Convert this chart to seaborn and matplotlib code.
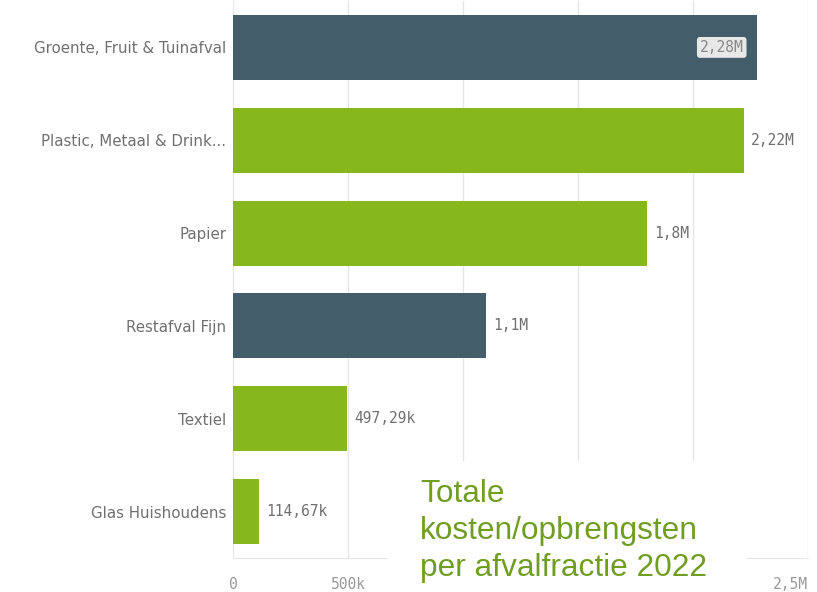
import pandas as pd
import matplotlib.pyplot as plt
import seaborn as sns
from matplotlib.patches import Rectangle

# Data
categories = ['Groente, Fruit & Tuinafval', 'Plastic, Metaal & Drink...', 'Papier',
              'Restafval Fijn', 'Textiel', 'Glas Huishoudens']
values = [2280000, 2220000, 1800000, 1100000, 497290, 114670]
value_labels = ['2,28M', '2,22M', '1,8M', '1,1M', '497,29k', '114,67k']
bar_colors = ['#435e6a', '#86b81e', '#86b81e', '#435e6a', '#86b81e', '#86b81e']
x_ticks = [0, 500000, 1000000, 1500000, 2000000, 2500000]
# labels 1M, 1,5M en 2M liggen onder het titelvak en zijn niet zichtbaar
x_ticklabels = ['0', '500k', '', '', '', '2,5M']

df = pd.DataFrame({'categorie': categories, 'waarde': values})

sns.set_style('white')
plt.rcParams['font.family'] = ['DejaVu Sans']

fig = plt.figure(figsize=(8.17, 5.92), dpi=100)
ax = fig.add_axes([233 / 817, 34 / 592, 575 / 817, 557 / 592])

sns.barplot(data=df, x='waarde', y='categorie', hue='categorie',
            palette=bar_colors, legend=False, width=0.7, ax=ax,
            saturation=1, edgecolor='none', zorder=3)

ax.set_xlim(0, 2500000)
ax.set_xticks(x_ticks)
ax.set_xticklabels(x_ticklabels, family='DejaVu Sans Mono')
ax.get_xticklabels()[-1].set_horizontalalignment('right')
ax.set_xlabel('')
ax.set_ylabel('')
ax.grid(axis='x', color='#e6e6e6', linewidth=1, zorder=0)
for s in ['top', 'right', 'left']:
    ax.spines[s].set_visible(False)
ax.spines['bottom'].set_color('#e6e6e6')
ax.tick_params(axis='x', colors='#999999', labelsize=10.5, length=0, pad=14)
ax.tick_params(axis='y', colors='#707070', labelsize=10.8, length=0, pad=5)

# Value labels
for i, (v, lab) in enumerate(zip(values, value_labels)):
    if i == 0:
        ax.text(v - 60000, i, lab, ha='right', va='center', fontsize=10.5, color='#888888',
                family='DejaVu Sans Mono',
                bbox=dict(boxstyle='round,pad=0.2', fc='#e8e8e8', ec='none'), zorder=5)
    else:
        ax.text(v + 30000, i, lab, ha='left', va='center', fontsize=10.5, color='#707070',
                family='DejaVu Sans Mono', zorder=5)

# White box with title overlay
fig.patches.append(Rectangle((387 / 817, 0), 360 / 817, 131 / 592, transform=fig.transFigure,
                             facecolor='white', edgecolor='none', zorder=10))
fig.text(420 / 817, 1 - 479 / 592, 'Totale\nkosten/opbrengsten\nper afvalfractie 2022',
         ha='left', va='top', fontsize=22.8, color='#6f9e22', linespacing=1.3,
         family=['Liberation Sans', 'DejaVu Sans'], zorder=11)

fig.savefig('out.png', dpi=100)
